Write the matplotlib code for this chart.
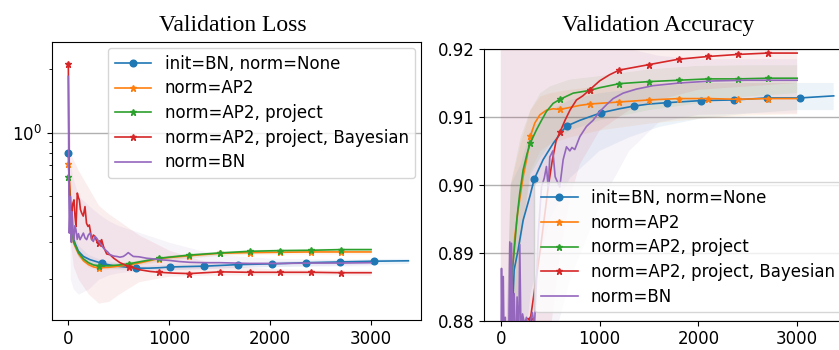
import matplotlib
matplotlib.use('Agg')
import matplotlib.pyplot as plt
from matplotlib.ticker import NullFormatter

plt.rcParams['font.size'] = 12

labels = ['init=BN, norm=None', 'norm=AP2', 'norm=AP2, project',
          'norm=AP2, project, Bayesian', 'norm=BN']
colors = ['tab:blue', 'tab:orange', 'tab:green', 'tab:red', 'tab:purple']

# ---------------- validation loss (mean curves) ----------------
loss_x_bn = [0, 15, 30, 50, 66, 100, 149, 215, 337, 450, 560, 674, 800, 900, 1011,
             1348, 1685, 2022, 2359, 2696, 3033, 3370]
loss_bn = [0.798, 0.45, 0.36, 0.315, 0.297, 0.272, 0.257, 0.248, 0.238, 0.232, 0.229,
           0.226, 0.226, 0.227, 0.229, 0.231, 0.235, 0.237, 0.240, 0.242, 0.244, 0.245]

loss_x_ap = [0, 50, 100, 150, 200, 250, 300, 400, 500, 600, 700, 800, 900, 1000, 1200,
             1500, 1800, 2100, 2400, 2700, 3000]
loss_ap2 = [0.705, 0.30, 0.265, 0.245, 0.235, 0.229, 0.227, 0.228, 0.231, 0.234, 0.239,
            0.245, 0.251, 0.254, 0.259, 0.266, 0.268, 0.269, 0.270, 0.270, 0.270]
loss_proj = [0.617, 0.303, 0.268, 0.250, 0.240, 0.234, 0.232, 0.232, 0.234, 0.237, 0.242,
             0.247, 0.252, 0.255, 0.261, 0.267, 0.272, 0.274, 0.275, 0.277, 0.277]

loss_x_bay = [0, 8, 15, 25, 34, 45, 56, 66, 76, 89, 100, 109, 120, 132, 148, 165, 180,
              195, 208, 220, 231, 248, 264, 280, 300, 314, 330, 350, 380, 413, 450, 512,
              600, 710, 810, 900, 1050, 1200, 1500, 1800, 2100, 2400, 2700, 3000]
loss_bay = [2.12, 0.62, 0.48, 0.44, 0.414, 0.46, 0.478, 0.40, 0.357, 0.515, 0.49, 0.478,
            0.43, 0.414, 0.40, 0.444, 0.37, 0.357, 0.363, 0.335, 0.309, 0.325, 0.320,
            0.305, 0.297, 0.300, 0.309, 0.285, 0.264, 0.262, 0.252, 0.240, 0.230, 0.222,
            0.218, 0.216, 0.214, 0.213, 0.217, 0.216, 0.216, 0.216, 0.215, 0.215]

loss_x_nbn = [0, 5, 10, 15, 20, 25, 30, 35, 40, 48, 56, 66, 76, 88, 100, 116, 132, 149,
              165, 182, 198, 215, 232, 248, 264, 281, 297, 314, 340, 363, 390, 413, 450,
              479, 512, 545, 570, 594, 620, 644, 700, 776, 850, 908, 1000, 1100, 1205,
              1350, 1503, 1800, 2100, 2400, 2700, 3000]
loss_nbn = [1.85, 0.55, 0.332, 0.40, 0.496, 0.36, 0.30, 0.42, 0.398, 0.33, 0.309, 0.36,
            0.344, 0.31, 0.33, 0.309, 0.32, 0.332, 0.315, 0.309, 0.325, 0.332, 0.31, 0.303,
            0.32, 0.314, 0.305, 0.297, 0.285, 0.277, 0.27, 0.262, 0.258, 0.257, 0.255,
            0.257, 0.262, 0.268, 0.262, 0.257, 0.256, 0.252, 0.250, 0.248, 0.246, 0.243,
            0.241, 0.240, 0.240, 0.238, 0.238, 0.239, 0.239, 0.240]

# loss spread (lower / upper edge of the shaded areas)
lb_x_bn = [0, 20, 50, 100, 200, 337, 500, 700, 1000, 1500, 2000, 2500, 3000, 3370]
lb_lo_bn = [0.7, 0.36, 0.29, 0.255, 0.236, 0.229, 0.224, 0.220, 0.222, 0.226, 0.230,
            0.233, 0.236, 0.238]
lb_hi_bn = [0.9, 0.5, 0.34, 0.29, 0.262, 0.247, 0.240, 0.232, 0.236, 0.238, 0.244,
            0.247, 0.251, 0.252]
lb_x_ap = [0, 50, 100, 200, 300, 500, 700, 1000, 1500, 2000, 2500, 3000]
lb_lo_ap2 = [0.65, 0.285, 0.255, 0.228, 0.221, 0.225, 0.233, 0.248, 0.260, 0.263, 0.264, 0.264]
lb_hi_ap2 = [0.76, 0.315, 0.275, 0.242, 0.233, 0.237, 0.245, 0.260, 0.272, 0.275, 0.276, 0.276]
lb_lo_proj = [0.57, 0.29, 0.258, 0.233, 0.226, 0.228, 0.236, 0.249, 0.261, 0.267, 0.269, 0.271]
lb_hi_proj = [0.67, 0.318, 0.278, 0.247, 0.238, 0.240, 0.248, 0.261, 0.273, 0.279, 0.281, 0.283]
lb_x_wide = [0, 20, 50, 100, 200, 300, 400, 500, 700, 1000, 1300, 1600, 2000, 2500, 3000]
lb_lo_bay = [0.6, 0.3, 0.23, 0.2, 0.17, 0.154, 0.157, 0.17, 0.195, 0.207, 0.209, 0.210,
             0.210, 0.210, 0.209]
lb_hi_bay = [2.4, 0.8, 0.74, 0.66, 0.545, 0.45, 0.41, 0.38, 0.325, 0.275, 0.248, 0.232,
             0.225, 0.222, 0.221]
lb_lo_nbn = [1.2, 0.2, 0.18, 0.17, 0.18, 0.2, 0.21, 0.215, 0.22, 0.222, 0.225, 0.228,
             0.23, 0.231, 0.232]
lb_hi_nbn = [2.2, 0.7, 0.6, 0.5, 0.45, 0.41, 0.38, 0.36, 0.335, 0.30, 0.275, 0.26,
             0.252, 0.25, 0.248]

# ---------------- validation accuracy (mean curves) ----------------
acc_x_bn = [0, 100, 135, 175, 226, 294, 337, 428, 530, 631, 674, 800, 1011, 1200, 1348,
            1500, 1685, 2022, 2359, 2696, 3033, 3370]
acc_bn = [0.80, 0.875, 0.8875, 0.8904, 0.8948, 0.8983, 0.9008, 0.9037, 0.9061, 0.9081,
          0.9087, 0.9095, 0.9106, 0.9112, 0.9116, 0.9119, 0.9121, 0.9124, 0.9125, 0.9128,
          0.9128, 0.9131]

acc_x_ap2 = [0, 100, 118, 142, 175, 226, 266, 300, 344, 395, 462, 530, 600, 700, 800,
             900, 1000, 1200, 1500, 1800, 2100, 2400, 2700, 3000]
acc_ap2 = [0.80, 0.878, 0.8875, 0.8924, 0.8963, 0.9012, 0.9041, 0.9072, 0.9091, 0.9103,
           0.9110, 0.9112, 0.9111, 0.9114, 0.9117, 0.9119, 0.9120, 0.9122, 0.9125, 0.9127,
           0.9127, 0.9126, 0.9127, 0.9127]

acc_x_proj = [0, 100, 118, 142, 165, 192, 226, 266, 300, 361, 412, 462, 530, 600, 732,
              900, 1000, 1200, 1500, 1800, 2100, 2400, 2700, 3000]
acc_proj = [0.80, 0.878, 0.8875, 0.8914, 0.8953, 0.8988, 0.9022, 0.9046, 0.9062, 0.9081,
            0.9095, 0.9108, 0.9120, 0.9126, 0.9135, 0.9139, 0.9143, 0.9149, 0.9152, 0.9154,
            0.9156, 0.9156, 0.9157, 0.9157]

acc_x_bay = [0, 100, 200, 300, 400, 480, 520, 560, 600, 650, 700, 766, 830, 900, 1000,
             1100, 1200, 1350, 1500, 1800, 2100, 2400, 2700, 3000]
acc_bay = [0.80, 0.84, 0.865, 0.8803, 0.8905, 0.8997, 0.9035, 0.9065, 0.9078, 0.9095,
           0.9110, 0.9125, 0.9131, 0.9140, 0.9153, 0.9162, 0.9169, 0.9173, 0.9177, 0.9185,
           0.9189, 0.9192, 0.9194, 0.9194]

acc_x_nbn = [0, 7, 15, 25, 35, 45, 55, 65, 75, 91, 100, 108, 120, 135, 150, 165, 180,
             192, 205, 220, 240, 260, 280, 300, 320, 340, 360, 380, 412, 440, 462, 480,
             496, 527, 550, 580, 597, 631, 665, 699, 720, 749, 800, 867, 934, 1002, 1070,
             1137, 1238, 1373, 1542, 1812, 2149, 2487, 3000]
acc_nbn = [0.870, 0.8877, 0.876, 0.8865, 0.874, 0.8805, 0.872, 0.878, 0.870, 0.8916,
           0.875, 0.8914, 0.879, 0.884, 0.874, 0.8835, 0.876, 0.8912, 0.877, 0.881,
           0.8795, 0.8805, 0.8785, 0.880, 0.8812, 0.8790, 0.8855, 0.8930, 0.8997, 0.9010,
           0.9027, 0.8995, 0.9041, 0.9050, 0.9012, 0.9002, 0.8997, 0.9037, 0.9056, 0.9050,
           0.9055, 0.9052, 0.9071, 0.9086, 0.9095, 0.9108, 0.9118, 0.9127, 0.9135, 0.9141,
           0.9146, 0.9150, 0.9153, 0.9154, 0.9154]

# accuracy spread
ab_x_bn = [0, 100, 200, 300, 500, 700, 1000, 1300, 1600, 2000, 2500, 3000, 3370]
ab_lo_bn = [0.75, 0.84, 0.87, 0.884, 0.895, 0.901, 0.905, 0.907, 0.9085, 0.9097, 0.9105,
            0.911, 0.911]
ab_hi_bn = [0.85, 0.90, 0.903, 0.908, 0.911, 0.9125, 0.9135, 0.914, 0.9145, 0.915, 0.915,
            0.915, 0.915]
ab_x_ap = [0, 100, 200, 300, 400, 500, 700, 1000, 1500, 2000, 2500, 3000]
ab_lo_ap2 = [0.75, 0.86, 0.892, 0.902, 0.905, 0.906, 0.907, 0.908, 0.909, 0.9097, 0.9102, 0.9104]
ab_hi_ap2 = [0.85, 0.90, 0.906, 0.911, 0.913, 0.9135, 0.914, 0.9145, 0.915, 0.915, 0.915, 0.915]
ab_lo_proj = [0.75, 0.86, 0.891, 0.9015, 0.904, 0.906, 0.908, 0.9095, 0.911, 0.912, 0.913, 0.9135]
ab_hi_proj = [0.85, 0.90, 0.907, 0.911, 0.9135, 0.9145, 0.9155, 0.916, 0.917, 0.9175, 0.9176, 0.9176]
ab_x_bay = [0, 100, 200, 300, 400, 450, 500, 600, 700, 800, 1000, 1300, 1600, 2000, 2500, 3000]
ab_lo_bay = [0.7, 0.8, 0.82, 0.84, 0.86, 0.87, 0.878, 0.89, 0.898, 0.903, 0.908, 0.911,
             0.9125, 0.914, 0.9145, 0.915]
ab_hi_bay = [0.95, 0.95, 0.95, 0.95, 0.95, 0.94, 0.935, 0.93, 0.928, 0.927, 0.925, 0.924,
             0.923, 0.923, 0.923, 0.923]
ab_x_nbn = [0, 100, 200, 300, 400, 500, 700, 1000, 1300, 1600, 2000, 2500, 3000]
ab_lo_nbn = [0.8, 0.8, 0.8, 0.8, 0.82, 0.875, 0.886, 0.897, 0.905, 0.9092, 0.9103, 0.9105, 0.9105]
ab_hi_nbn = [0.95, 0.95, 0.95, 0.95, 0.94, 0.93, 0.925, 0.922, 0.92, 0.919, 0.9185, 0.9185, 0.9185]


def marks(xs, step):
    # marker on every multiple of step, not on the last point
    return [i for i, v in enumerate(xs) if v % step == 0 and v < xs[-1]]


def draw(ax, curves, bands):
    for (bx, lo, hi), c in zip(bands, colors):
        ax.fill_between(bx, lo, hi, color=c, alpha=0.08, linewidth=0)
    styles = [('o', 4.8, 337), ('*', 4.5, 300), ('*', 4.5, 300), ('*', 4.5, 300), (None, 0, 1)]
    for (xs, ys), c, lab, (m, ms, step) in zip(curves, colors, labels, styles):
        if m is None:
            ax.plot(xs, ys, color=c, lw=1.2, label=lab)
        else:
            ax.plot(xs, ys, color=c, lw=1.2, marker=m, ms=ms,
                    markevery=marks(xs, step), label=lab)


fig = plt.figure(figsize=(8.39, 3.5), dpi=100)
ax1 = fig.add_axes([0.0616, 0.0857, 0.4402, 0.7934])
ax2 = fig.add_axes([0.5769, 0.0837, 0.4362, 0.7763])

draw(ax1,
     [(loss_x_bn, loss_bn), (loss_x_ap, loss_ap2), (loss_x_ap, loss_proj),
      (loss_x_bay, loss_bay), (loss_x_nbn, loss_nbn)],
     [(lb_x_bn, lb_lo_bn, lb_hi_bn), (lb_x_ap, lb_lo_ap2, lb_hi_ap2),
      (lb_x_ap, lb_lo_proj, lb_hi_proj), (lb_x_wide, lb_lo_bay, lb_hi_bay),
      (lb_x_wide, lb_lo_nbn, lb_hi_nbn)])
ax1.set_yscale('log')
ax1.set_ylim(0.128, 2.69)
ax1.set_xlim(-165, 3495)
ax1.yaxis.set_minor_formatter(NullFormatter())
ax1.grid(axis='y', which='major', color='#b0b0b0', lw=1.0)
ax1.set_axisbelow(True)
ax1.set_xticks([0, 1000, 2000, 3000])
ax1.set_title('Validation Loss', family='Liberation Serif', fontsize=17,
              pad=7.8, x=0.49)
ax1.legend(loc='upper right', borderaxespad=0.35, labelspacing=0.4,
           handlelength=2.2)

draw(ax2,
     [(acc_x_bn, acc_bn), (acc_x_ap2, acc_ap2), (acc_x_proj, acc_proj),
      (acc_x_bay, acc_bay), (acc_x_nbn, acc_nbn)],
     [(ab_x_bn, ab_lo_bn, ab_hi_bn), (ab_x_ap, ab_lo_ap2, ab_hi_ap2),
      (ab_x_ap, ab_lo_proj, ab_hi_proj), (ab_x_bay, ab_lo_bay, ab_hi_bay),
      (ab_x_nbn, ab_lo_nbn, ab_hi_nbn)])
ax2.set_ylim(0.88, 0.92)
ax2.set_xlim(-170, 3535)
ax2.set_yticks([0.88, 0.89, 0.90, 0.91, 0.92])
ax2.set_yticklabels(['0.88', '0.89', '0.90', '0.91', '0.92'])
ax2.set_xticks([0, 1000, 2000, 3000])
ax2.grid(axis='y', which='major', color='#b0b0b0', lw=1.0)
ax2.set_axisbelow(True)
ax2.set_title('Validation Accuracy', family='Liberation Serif', fontsize=17,
              pad=13.3, x=0.475)
ax2.legend(loc='lower right', borderaxespad=0.5, labelspacing=0.4,
           handlelength=2.2)

fig.savefig('out.png', dpi=100)
